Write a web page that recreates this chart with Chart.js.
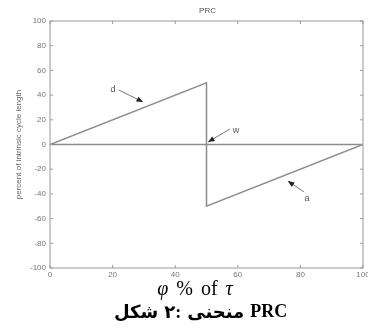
<!DOCTYPE html>
<html>
<head>
<meta charset="utf-8">
<script src="https://cdn.jsdelivr.net/npm/chart.js@4/dist/chart.umd.min.js"></script>
<style>
  html, body { margin: 0; padding: 0; background: #fff; }
  #wrap { position: relative; width: 368px; height: 282px; }
  .xlab { position: absolute; left: 0; width: 390px; top: 277px; text-align: center; word-spacing: 3px;
          font-family: "Liberation Serif", serif; font-size: 20px; color: #000; }
  .cap { position: absolute; left: 114px; top: 301px; display: flex; gap: 6px; direction: ltr;
         font-family: "Liberation Serif", "DejaVu Sans", serif; font-weight: bold; font-size: 18px; color: #000; }
</style>
</head>
<body>
<div id="wrap"><canvas id="prc"></canvas></div>
<div class="xlab"><i>φ</i> % of <i>τ</i></div>
<div class="cap"><span>شکل</span><span dir="ltr">۲:</span><span>منحنی</span><span>PRC</span></div>
<script>
// --- data ---
const prcX = [0, 50, 50, 100];
const prcY = [0, 50, -50, 0];
const zeroX = [0, 100];
const zeroY = [0, 0];
const xTicks = [0, 20, 40, 60, 80, 100];
const yTicks = [-100, -80, -60, -40, -20, 0, 20, 40, 60, 80, 100];

// annotation labels and arrows (data coords)
const noteText = ['d', 'w', 'a'];
const noteAt = [[20.1, 44.9], [59.4, 11.7], [82.1, -44.1]];
const arrowFrom = [[22.0, 44.1], [57.5, 12.6], [81.2, -38.5]];
const arrowTo = [[29.7, 34.4], [50.5, 2.0], [76.0, -29.6]];

const grey = '#8c8c8c';

const toPts = (xs, ys) => xs.map((x, i) => ({ x: x, y: ys[i] }));

// frame, inward ticks, title and arrows in matlab style
const matlabPlugin = {
    id: 'matlab',
    afterDatasetsDraw: (chart) => {
        const c = chart.ctx;
        const a = chart.chartArea;
        const xs = chart.scales.x, ys = chart.scales.y;
        c.save();
        c.strokeStyle = '#9a9a9a';
        c.lineWidth = 1;
        c.strokeRect(a.left, a.top, a.right - a.left, a.bottom - a.top);
        c.beginPath();
        xTicks.forEach(t => {
            const px = xs.getPixelForValue(t);
            c.moveTo(px, a.bottom); c.lineTo(px, a.bottom - 3);
            c.moveTo(px, a.top); c.lineTo(px, a.top + 3);
        });
        yTicks.forEach(t => {
            const py = ys.getPixelForValue(t);
            c.moveTo(a.left, py); c.lineTo(a.left + 3, py);
            c.moveTo(a.right, py); c.lineTo(a.right - 3, py);
        });
        c.stroke();

        // title
        c.fillStyle = '#555';
        c.font = '8px "Liberation Sans", Arial, sans-serif';
        c.textAlign = 'center';
        c.textBaseline = 'middle';
        c.fillText('PRC', (a.left + a.right) / 2 + 1, a.top - 10);

        // notes + arrows
        c.font = '9px "Liberation Sans", Arial, sans-serif';
        noteText.forEach((t, i) => {
            c.fillStyle = '#555';
            c.fillText(t, xs.getPixelForValue(noteAt[i][0]), ys.getPixelForValue(noteAt[i][1]));
            const x1 = xs.getPixelForValue(arrowFrom[i][0]), y1 = ys.getPixelForValue(arrowFrom[i][1]);
            const x2 = xs.getPixelForValue(arrowTo[i][0]), y2 = ys.getPixelForValue(arrowTo[i][1]);
            c.strokeStyle = '#777';
            c.beginPath(); c.moveTo(x1, y1); c.lineTo(x2, y2); c.stroke();
            const ang = Math.atan2(y2 - y1, x2 - x1);
            c.fillStyle = '#222';
            c.beginPath();
            c.moveTo(x2, y2);
            c.lineTo(x2 - 7 * Math.cos(ang - 0.4), y2 - 7 * Math.sin(ang - 0.4));
            c.lineTo(x2 - 7 * Math.cos(ang + 0.4), y2 - 7 * Math.sin(ang + 0.4));
            c.closePath(); c.fill();
        });
        c.restore();
    }
};

new Chart(document.getElementById('prc'), {
    type: 'scatter',
    data: {
        datasets: [
            { data: toPts(zeroX, zeroY), showLine: true, borderColor: grey, borderWidth: 1.5, pointRadius: 0 },
            { data: toPts(prcX, prcY), showLine: true, borderColor: grey, borderWidth: 1.5, pointRadius: 0 }
        ]
    },
    options: {
        responsive: true,
        maintainAspectRatio: false,
        animation: false,
        layout: { padding: { top: 21, right: 0, left: 0, bottom: 0 } },
        plugins: { legend: { display: false }, tooltip: { enabled: false } },
        scales: {
            x: {
                type: 'linear', min: 0, max: 100,
                afterBuildTicks: s => { s.ticks = xTicks.map(v => ({ value: v })); },
                afterFit: s => { s.height = 14; s.paddingRight = 5; },
                grid: { display: false, drawTicks: false, tickLength: 0 },
                border: { display: false },
                ticks: { color: '#777', font: { size: 8, family: '"Liberation Sans", Arial' }, padding: 2, maxRotation: 0 }
            },
            y: {
                min: -100, max: 100,
                afterBuildTicks: s => { s.ticks = yTicks.map(v => ({ value: v })); },
                afterFit: s => { s.width = 50; },
                grid: { display: false, drawTicks: false, tickLength: 0 },
                border: { display: false },
                title: { display: true, text: 'percent of intrinsic cycle length', color: '#666',
                         font: { size: 8, family: '"Liberation Sans", Arial' }, padding: { top: 14, bottom: 0 } },
                ticks: { color: '#777', font: { size: 8, family: '"Liberation Sans", Arial' }, padding: 4 }
            }
        }
    },
    plugins: [matlabPlugin]
});
</script>
</body>
</html>
